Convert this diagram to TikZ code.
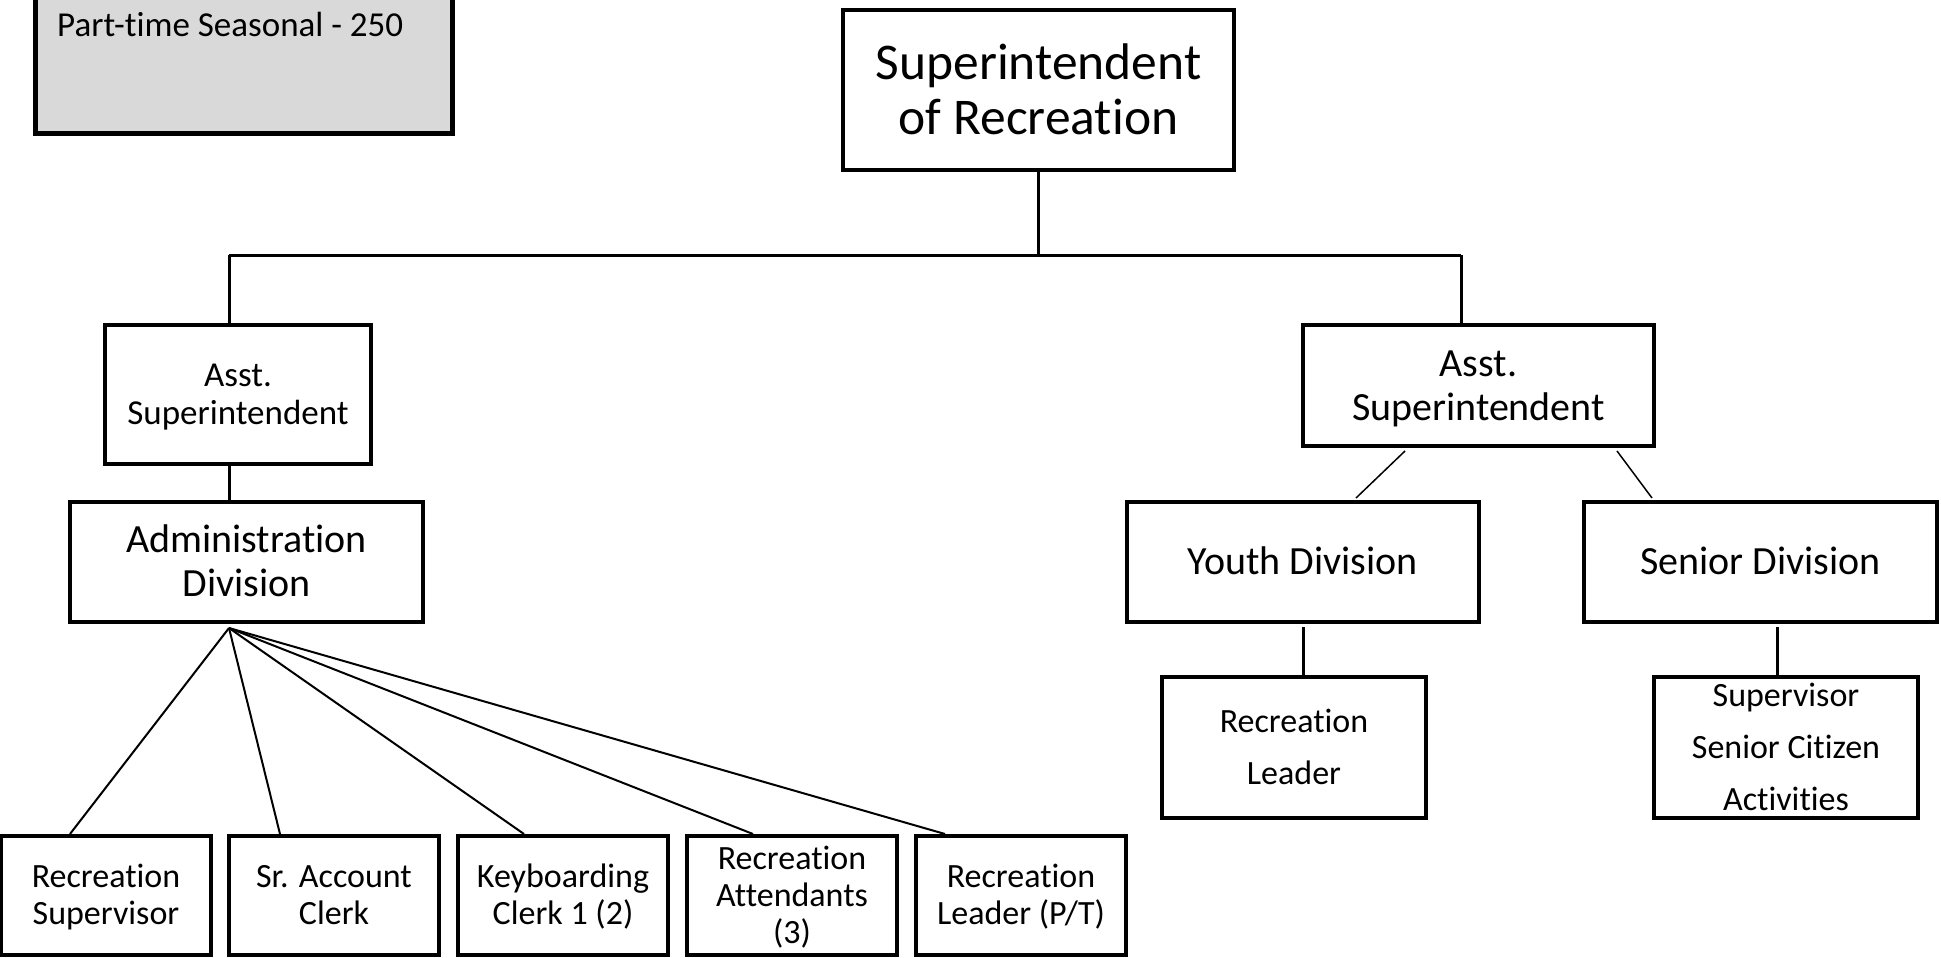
\documentclass[tikz,border=0pt]{standalone}
\usepackage{fontspec}
\setmainfont{Carlito}[Ligatures={NoCommon,NoRequired,NoContextual},RawFeature={-dlig;-calt}]
\usetikzlibrary{calc}
% zero-width strut: every line takes exactly one \baselineskip,
% with the cap height centred in it
\newcommand{\boxstrut}{\rule[\dimexpr0.322em-0.5\baselineskip\relax]{0pt}{\baselineskip}}
\begin{document}
\begin{tikzpicture}[x=1pt,y=-1pt,
  orgbox/.style={draw=black, line width=4pt, rectangle, inner sep=0pt,
    align=center, fill=white},
  topfont/.style={font=\fontsize{51.5}{55}\selectfont},
  midfont/.style={font=\fontsize{40}{44}\selectfont},
  smallfont/.style={font=\fontsize{34}{37}\selectfont},
  widefont/.style={font=\fontsize{34}{52}\selectfont},
  asstfont/.style={font=\fontsize{35}{38}\selectfont},
  trunk/.style={line width=3pt},
  fanline/.style={line width=2pt},
  thinline/.style={line width=1.5pt},
]
\useasboundingbox (0,0) rectangle (1941,958);
\fill[white] (0,0) rectangle (1941,958);
\clip (0,0) rectangle (1941,958);

% staffing note, top left
\draw[line width=5pt, fill=black!15] (35.5,-60) rectangle (452,133);
\node[anchor=base west, inner sep=0pt, font=\fontsize{35}{42}\selectfont]
  (note) at (57,37) {Part-time Seasonal - 250};

% top level
\node[orgbox, topfont, minimum width=391pt, minimum height=160pt]
  (sup) at (1038.5,90) {\boxstrut Superintendent\\\boxstrut of Recreation};

% assistant superintendents
\node[orgbox, asstfont, minimum width=266pt, minimum height=139pt]
  (aL) at (238,394.5) {\boxstrut Asst.\\\boxstrut Superintendent};
\node[orgbox, midfont, minimum width=351pt, minimum height=121pt]
  (aR) at (1478.5,385.5) {\boxstrut Asst.\\\boxstrut Superintendent};

% divisions
\node[orgbox, midfont, minimum width=353pt, minimum height=120pt]
  (adm) at (246.5,562) {\boxstrut Administration\\\boxstrut Division};
\node[orgbox, midfont, minimum width=352pt, minimum height=120pt]
  (yth) at (1303,562) {\boxstrut Youth Division};
\node[orgbox, midfont, minimum width=353pt, minimum height=120pt]
  (sen) at (1760.5,562) {\boxstrut Senior Division};

% staff under the youth and senior divisions
\node[orgbox, widefont, minimum width=264pt, minimum height=141pt]
  (rl) at (1294,747.5) {\boxstrut Recreation\\\boxstrut Leader};
% the three lines run past the frame, so the text is a label that
% does not size the box
\node[orgbox, minimum width=264pt, minimum height=141pt,
  label={[widefont, align=center, inner sep=0pt]center:\boxstrut Supervisor\\\boxstrut Senior Citizen\\\boxstrut Activities}]
  (ssc) at (1786,747.5) {};

% administration staff
\begin{scope}[every node/.style={orgbox, smallfont, minimum width=210pt, minimum height=119pt}]
  \node (b1) at (106,895.5) {\boxstrut Recreation\\\boxstrut Supervisor};
  \node (b2) at (334,895.5) {\boxstrut Sr. Account\\\boxstrut Clerk};
  \node (b3) at (563,895.5) {\boxstrut Keyboarding\\\boxstrut Clerk 1 (2)};
  \node (b4) at (792,895.5) {\boxstrut Recreation\\\boxstrut Attendants\\\boxstrut (3)};
  \node (b5) at (1021,895.5) {\boxstrut Recreation\\\boxstrut Leader (P/T)};
\end{scope}

% main bus
\coordinate (busL) at (229,255);
\coordinate (busR) at (1461,255);
\coordinate (busC) at (sup.south |- busL);
\draw[trunk] (sup.south) -- (busC);
\draw[trunk] (busL) -- (busR);
\draw[trunk] (busL) -- (busL |- aL.north);
\draw[trunk] (busR) -- (busR |- aR.north);
\draw[trunk] (busL |- aL.south) -- (busL |- adm.north);

% fan from the administration division
\coordinate (fan) at ($(busL |- adm.south)+(0,4)$);
\draw[fanline] (fan) -- ([xshift=71pt]b1.north west);
\draw[fanline] (fan) -- ([xshift=53pt]b2.north west);
\draw[fanline] (fan) -- ([xshift=68pt]b3.north west);
\draw[fanline] (fan) -- ([xshift=68pt]b4.north west);
\draw[fanline] (fan) -- ([xshift=31pt]b5.north west);

% right branch
\draw[thinline] ([xshift=104pt,yshift=-3pt]aR.south west) -- ([xshift=231pt,yshift=2pt]yth.north west);
\draw[thinline] ([xshift=316pt,yshift=-3pt]aR.south west) -- ([xshift=70pt,yshift=2pt]sen.north west);
\draw[trunk] ([yshift=-3pt]yth.south) -- (yth.south |- rl.north);
\coordinate (senDrop) at ([xshift=16.5pt,yshift=-3pt]sen.south);
\draw[trunk] (senDrop) -- (senDrop |- ssc.north);
\end{tikzpicture}
\end{document}
